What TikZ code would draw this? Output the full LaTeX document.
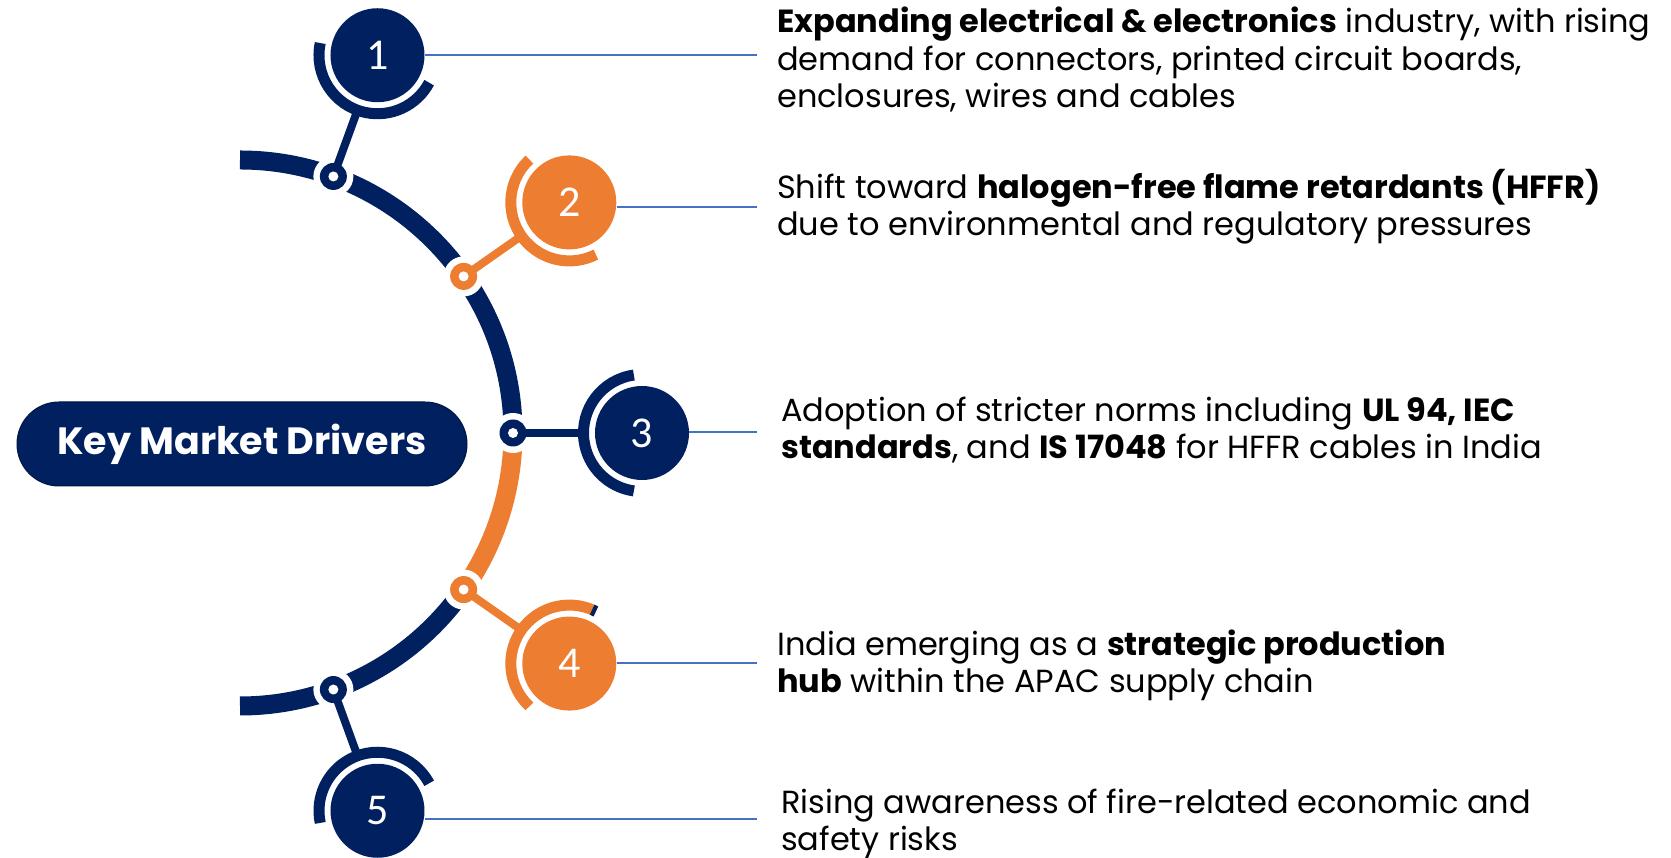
\documentclass[tikz,border=0pt]{standalone}
\usepackage{fontspec}
\setmainfont{Poppins}
\newfontfamily\numfont{Carlito}
\usetikzlibrary{calc}
\definecolor{navy}{HTML}{002060}
\definecolor{orng}{HTML}{ED7D31}
\definecolor{leadblue}{HTML}{4472C4}

\begin{document}
\begin{tikzpicture}[x=1pt, y=1pt,
    num circle/.style={circle, minimum size=94pt, inner sep=0pt, text=white,
                       font=\numfont\fontsize{44}{44}\selectfont},
    item text/.style={anchor=base west, align=left, inner sep=0pt,
                      font=\fontsize{32}{37.5}\selectfont},
    lead line/.style={leadblue, line width=1.5pt},
    main arc/.style={line width=19pt},
    halo/.style={line width=11pt}]

    \useasboundingbox (0,0) rectangle (1671,858);
    \coordinate (C) at (240,425);

    % ring and circle positions
    \foreach \i/\a in {1/70, 2/35, 3/0, 4/-35, 5/-70} {
        \coordinate (r\i) at ($(C)+(\a:273)$);
        \coordinate (k\i) at ($(C)+(\a:402)$);
    }

    % big arc
    \draw[main arc, navy] ($(C)+(90:273)$) arc[start angle=90, end angle=0, radius=273];
    \draw[main arc, orng] (r3) arc[start angle=0, end angle=-35, radius=273];
    \draw[main arc, navy] (r4) arc[start angle=-35, end angle=-90, radius=273];

    % rings, stems, halos and numbered circles
    \foreach \i/\a/\col in {1/70/navy, 2/35/orng, 3/0/navy, 4/-35/orng, 5/-70/navy} {
        \fill[white] (r\i) circle[radius=20];
        \draw[\col, line width=8pt] (r\i) -- ($(k\i)!56pt!(r\i)$);
        \fill[\col] (r\i) circle[radius=13.5];
        \fill[white] (r\i) circle[radius=5];
        \draw[halo, \col] ($(k\i)+({\a+98}:58.5)$) arc[start angle=\a+98, end angle=\a+262, radius=58.5];
        \node[num circle, fill=\col] (c\i) at (k\i) {\i};
    }
    \draw[halo, navy] ($(k4)+(63:58.5)$) arc[start angle=63, end angle=67, radius=58.5];

    % title
    \node[rounded corners=42pt, fill=navy, draw=navy!70!black, line width=1pt,
          minimum width=450pt, minimum height=84pt, text=white,
          font=\bfseries\fontsize{38}{38}\selectfont] (kmd) at (242,414) {Key Market Drivers};

    % lead lines
    \coordinate (e1) at (757,803);
    \coordinate (e2) at (757,651);
    \coordinate (e3) at (757,426);
    \coordinate (e4) at (757,195);
    \coordinate (e5) at (757,39);
    \foreach \i in {1,...,5}
        \draw[lead line] (c\i.east |- e\i) -- (e\i);

    % texts (anchored at the baseline of their last line)
    \node[item text] (t1) at (777,750) {\textbf{Expanding electrical \& electronics} industry, with rising\\demand for connectors, printed circuit boards,\\enclosures, wires and cables};
    \node[item text] (t2) at (777,622) {Shift toward \textbf{halogen-free flame retardants (HFFR)}\\due to environmental and regulatory pressures};
    \node[item text] (t3) at (781,399) {Adoption of stricter norms including \textbf{UL 94, IEC}\\\textbf{standards}, and \textbf{IS 17048} for HFFR cables in India};
    \node[item text] (t4) at (777,165) {India emerging as a \textbf{strategic production}\\\textbf{hub} within the APAC supply chain};
    \node[item text] (t5) at (781,7) {Rising awareness of fire-related economic and\\safety risks};
\end{tikzpicture}
\end{document}
